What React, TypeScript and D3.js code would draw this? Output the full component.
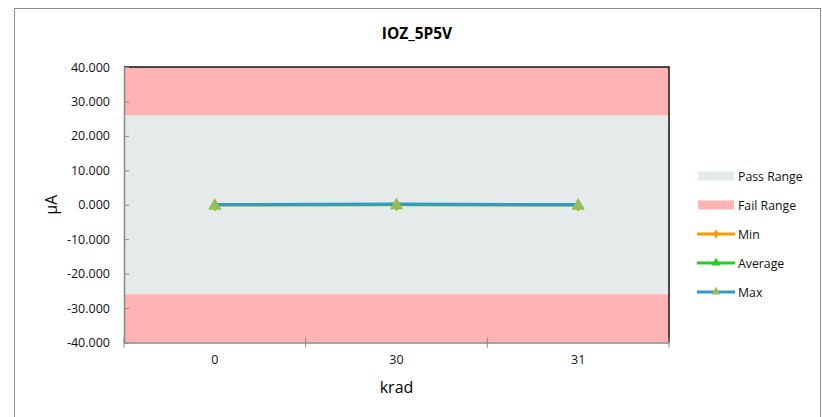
import React, { useRef, useEffect } from 'react';
import * as d3 from 'd3';

const categories = ['0', '30', '31'];
const minValues = [-0.05, 0.0, -0.1];
const avgValues = [0.0, 0.05, -0.05];
const maxValues = [0.05, 0.2, 0.05];
const yTicks = [-40, -30, -20, -10, 0, 10, 20, 30, 40];
const passLimit = 26;
const yDomain = [-40, 40];

const FONT = '"Open Sans", Lato, sans-serif';

const App = () => {
  const svgRef = useRef<SVGSVGElement>(null);

  useEffect(() => {
    const svg = d3.select(svgRef.current);
    svg.selectAll('*').remove();

    const plot = { left: 124, right: 669, top: 67, bottom: 342.5 };

    svg.append('rect')
      .attr('x', 14.5).attr('y', 8.5)
      .attr('width', 806).attr('height', 420)
      .attr('fill', '#fff').attr('stroke', '#8c8c8c');

    const x = d3.scaleBand().domain(categories).range([plot.left, plot.right]);
    const y = d3.scaleLinear().domain(yDomain).range([plot.bottom, plot.top]);

    // ranges
    svg.append('rect')
      .attr('x', plot.left).attr('width', plot.right - plot.left)
      .attr('y', y(40)).attr('height', y(-40) - y(40))
      .attr('fill', '#ffb3b3');
    svg.append('rect')
      .attr('x', plot.left).attr('width', plot.right - plot.left)
      .attr('y', y(passLimit)).attr('height', y(-passLimit) - y(passLimit))
      .attr('fill', '#e5ebeb');

    // top and right border
    svg.append('path')
      .attr('d', `M${plot.left},${y(40)}H${plot.right}V${plot.bottom}`)
      .attr('fill', 'none').attr('stroke', '#111').attr('stroke-width', 1.5);

    const fmt = (d: number) => d3.format('.3f')(d).replace('\u2212', '-');

    // y axis
    const yAxis = svg.append('g')
      .attr('transform', `translate(${plot.left},0)`)
      .call(d3.axisLeft(y).tickValues(yTicks).tickSize(5).tickSizeOuter(0).tickFormat(d => fmt(d as number)));
    yAxis.select('.domain').attr('stroke', '#888').attr('stroke-width', 1.5);
    yAxis.selectAll('line').attr('stroke', '#888').attr('x2', 5);
    yAxis.selectAll('text').attr('x', -14).attr('font-family', FONT).attr('font-size', 12.5).attr('fill', '#111');

    // x axis
    const xAxis = svg.append('g')
      .attr('transform', `translate(0,${plot.bottom})`)
      .call(d3.axisBottom(x).tickSize(0).tickSizeOuter(0));
    xAxis.select('.domain').attr('stroke', '#888').attr('stroke-width', 1.5);
    xAxis.selectAll('text').attr('dy', '1.5em').attr('font-family', FONT).attr('font-size', 12.5).attr('fill', '#111');
    const boundaries = categories.map(c => x(c) as number).concat([plot.right]);
    svg.append('g').selectAll('line').data(boundaries).enter().append('line')
      .attr('x1', d => d).attr('x2', d => d)
      .attr('y1', plot.bottom - 5).attr('y2', plot.bottom + 5)
      .attr('stroke', '#888');

    const cx = (i: number) => (x(categories[i]) as number) + x.bandwidth() / 2;
    const line = d3.line<number>().x((_, i) => cx(i)).y(d => y(d));

    const series = [
      { name: 'Min', values: minValues, color: '#ff9900', marker: 'diamond', markerColor: '#ff9900' },
      { name: 'Average', values: avgValues, color: '#1fd11f', marker: 'triangle', markerColor: '#1fd11f' },
      { name: 'Max', values: maxValues, color: '#3399cc', marker: 'triangle', markerColor: '#9bbb59' },
    ];

    const tri = d3.symbol().type(d3.symbolTriangle).size(70);
    const dia = d3.symbol().type(d3.symbolDiamond).size(40);

    series.forEach(s => {
      svg.append('path')
        .attr('d', line(s.values))
        .attr('fill', 'none').attr('stroke', s.color).attr('stroke-width', 3);
    });
    series.forEach(s => {
      svg.append('g').selectAll('path').data(s.values).enter().append('path')
        .attr('d', s.marker === 'diamond' ? dia() : tri())
        .attr('transform', (d, i) => `translate(${cx(i)},${y(d) + 1})`)
        .attr('fill', s.markerColor);
    });

    // title & labels
    svg.append('text')
      .attr('x', 417).attr('y', 39).attr('text-anchor', 'middle')
      .attr('font-family', FONT).attr('font-size', 15.5).attr('font-weight', 'bold')
      .text('IOZ_5P5V');
    svg.append('text')
      .attr('transform', `translate(57,${y(0)}) rotate(-90)`)
      .attr('text-anchor', 'middle')
      .attr('font-family', FONT).attr('font-size', 15.5).attr('font-weight', 'normal')
      .text('µA');
    svg.append('text')
      .attr('x', cx(1)).attr('y', 393).attr('text-anchor', 'middle')
      .attr('font-family', FONT).attr('font-size', 16).attr('font-weight', 'normal')
      .text('krad');

    // legend
    const legendItems = [
      { name: 'Pass Range', type: 'rect', color: '#e5ebeb' },
      { name: 'Fail Range', type: 'rect', color: '#ffb3b3' },
      { name: 'Min', type: 'line', color: '#ff9900', marker: 'diamond', markerColor: '#ff9900' },
      { name: 'Average', type: 'line', color: '#1fd11f', marker: 'triangle', markerColor: '#1fd11f' },
      { name: 'Max', type: 'line', color: '#3399cc', marker: 'triangle', markerColor: '#9bbb59' },
    ];
    const legend = svg.append('g').attr('transform', 'translate(697,176)');
    legendItems.forEach((it, i) => {
      const row = legend.append('g').attr('transform', `translate(0,${i * 29})`);
      if (it.type === 'rect') {
        row.append('rect').attr('x', 1).attr('y', -4.5).attr('width', 36).attr('height', 9).attr('fill', it.color);
      } else {
        row.append('line').attr('x1', 0).attr('x2', 38).attr('y1', 0).attr('y2', 0)
          .attr('stroke', it.color).attr('stroke-width', 3);
        const sym = it.marker === 'diamond' ? d3.symbol().type(d3.symbolDiamond).size(25) : d3.symbol().type(d3.symbolTriangle).size(35);
        row.append('path').attr('d', sym()).attr('transform', 'translate(19,0)').attr('fill', it.markerColor);
      }
      row.append('text').attr('x', 41).attr('y', 4.5)
        .attr('font-family', FONT).attr('font-size', 12.3).attr('fill', '#111')
        .text(it.name);
    });
  }, []);

  return <svg ref={svgRef} width={822} height={417} style={{ position: 'absolute', left: 0, top: 0 }} />;
};

export default App;
